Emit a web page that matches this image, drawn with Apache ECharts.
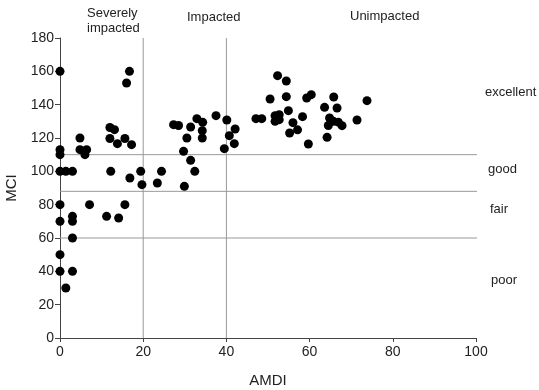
<!DOCTYPE html>
<html>
<head>
<meta charset="utf-8">
<script src="https://cdn.jsdelivr.net/npm/echarts@6/dist/echarts.min.js"></script>
<style>
  html, body { margin: 0; padding: 0; background: #fff; }
  #main { width: 539px; height: 390px; }
</style>
</head>
<body>
<div id="main"></div>
<script>
// AMDI vs MCI scatter data
var amdi = [
  0, 0, 0, 0, 0, 0, 0, 0,
  1.4, 3, 1.4,
  3, 3, 3, 3,
  4.8, 4.8, 6, 6.4, 7.1,
  11.2, 14.1, 15.6,
  12, 13.1, 12, 13.8, 12.2,
  15.6, 17.2, 16, 16.7, 16.8,
  19.4, 19.7, 23.4, 24.4,
  27.3, 28.5, 29.7, 30.5, 31.4, 31.4, 32.4, 29.9,
  32.9, 34.3, 34.2, 34.2, 37.5,
  40.1, 42.1, 40.7, 41.9, 39.5,
  47.1, 48.5, 50.5, 52.3, 54.4,
  51.7, 52.7, 51.7, 52.7,
  54.4, 54.9, 56, 58.3, 57.1, 55.2,
  59.3, 60.4, 59.7,
  63.6, 65.8, 66.6,
  64.8, 65.7, 66.9, 64.5, 67.8, 64.2,
  71.4, 73.8
];
var mci = [
  160, 113, 110, 100, 80, 70, 50, 40,
  100, 100, 30,
  73, 70, 60, 40,
  120, 113, 110, 113, 80,
  73, 72, 80,
  126.3, 125, 119.7, 116.6, 100,
  119.7, 116, 153, 160, 96,
  100, 92, 93, 100,
  128, 127.5, 112, 120, 126.6, 106.6, 100, 91,
  131.6, 129.4, 124.4, 120, 133.4,
  130.8, 125.4, 121.4, 116.6, 113.6,
  131.6, 131.6, 143.4, 157.4, 154.2,
  133.4, 134, 130, 131,
  144.8, 136.4, 129.2, 132.8, 124.9, 123,
  144, 146, 116.4,
  138.4, 144.6, 138,
  132, 130, 129.5, 127.5, 127.4, 120.4,
  130.8, 142.4
];
var amdiCuts = [20, 40];
var mciCuts = [110, 88, 60];
var xTicks = [0, 20, 40, 60, 80, 100];
var yTicks = [0, 20, 40, 60, 80, 100, 120, 140, 160, 180];

var points = amdi.map(function (x, i) { return [x, mci[i]]; });

var font = 'Liberation Sans, Arial, sans-serif';
var refLine = { color: '#999', width: 1 };

var cutSeries = [];
amdiCuts.forEach(function (v) {
  cutSeries.push({
    type: 'line', data: [[v, 0], [v, 180]], symbol: 'none', silent: true,
    clip: false, lineStyle: refLine, z: 1
  });
});
mciCuts.forEach(function (v) {
  cutSeries.push({
    type: 'line', data: [[0, v], [101.5, v]], symbol: 'none', silent: true,
    clip: false, lineStyle: refLine, z: 1
  });
});

var chart = echarts.init(document.getElementById('main'));
var txt = function (x, y, s) {
  return {
    type: 'text', left: x, top: y,
    style: { text: s, font: '13px ' + font, fill: '#222', lineHeight: 15 }
  };
};

var option = {
  animation: false,
  grid: { left: 60, right: 63, top: 38, bottom: 52, outerBoundsMode: 'none', containLabel: false },
  xAxis: {
    type: 'value', min: 0, max: 100, interval: 20,
    name: 'AMDI', nameLocation: 'middle', nameGap: 35,
    nameTextStyle: { fontFamily: font, fontSize: 15, color: '#222' },
    splitLine: { show: false },
    axisLine: { show: true, lineStyle: { color: '#444' } },
    axisTick: { show: true, length: 4, lineStyle: { color: '#444' } },
    axisLabel: {
      fontFamily: font, fontSize: 14, color: '#222', margin: 7,
      formatter: function (v) { return xTicks.indexOf(v) >= 0 ? v : ''; }
    }
  },
  yAxis: {
    type: 'value', min: 0, max: 180, interval: 20,
    name: 'MCI', nameLocation: 'middle', nameGap: 37,
    nameTextStyle: { fontFamily: font, fontSize: 15, color: '#222' },
    splitLine: { show: false },
    axisLine: { show: true, lineStyle: { color: '#444' } },
    axisTick: { show: true, length: 5, lineStyle: { color: '#444' } },
    axisLabel: {
      fontFamily: font, fontSize: 14, color: '#222', margin: 6,
      formatter: function (v) { return yTicks.indexOf(v) >= 0 ? v : ''; }
    }
  },
  graphic: [
    txt(87, 6, 'Severely\nimpacted'),
    txt(187, 10, 'Impacted'),
    txt(350, 9, 'Unimpacted'),
    txt(485, 85, 'excellent'),
    txt(488, 162, 'good'),
    txt(490, 202, 'fair'),
    txt(491, 273, 'poor')
  ],
  series: cutSeries.concat([{
    type: 'scatter',
    data: points,
    symbolSize: 9,
    clip: false,
    z: 3,
    itemStyle: { color: '#000', opacity: 1 }
  }])
};
chart.setOption(option);
</script>
</body>
</html>
